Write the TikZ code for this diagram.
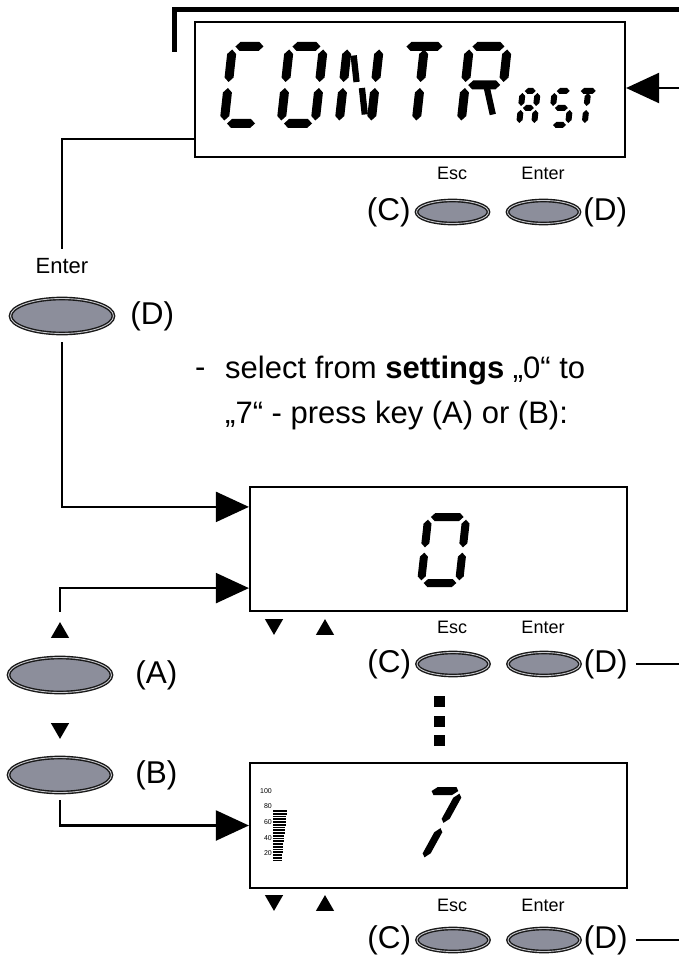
\documentclass[tikz,border=0pt]{standalone}
\usepackage{fontspec}
\setmainfont{Liberation Sans}
\usetikzlibrary{positioning,arrows.meta,calc,shapes.geometric}
\definecolor{btngray}{HTML}{8C8E9B}
\definecolor{btnring}{HTML}{C9CACF}

% segment helpers, origin at the bottom-left of a cell, y grows downward
\newcommand{\hseg}[3]{\fill (#1,#3) -- ({(#1)+\sgT/2},{(#3)-\sgT/2}) -- ({(#2)-\sgT/2},{(#3)-\sgT/2})
  -- (#2,#3) -- ({(#2)-\sgT/2},{(#3)+\sgT/2}) -- ({(#1)+\sgT/2},{(#3)+\sgT/2}) -- cycle;}
\newcommand{\vseg}[3]{\fill (#1,#2) -- ({(#1)+\sgT/2},{(#2)+\sgT/2}) -- ({(#1)+\sgT/2},{(#3)-\sgT/2})
  -- (#1,#3) -- ({(#1)-\sgT/2},{(#3)-\sgT/2}) -- ({(#1)-\sgT/2},{(#2)+\sgT/2}) -- cycle;}
\newcommand{\lcda}{\hseg{\sgG}{\sgW-\sgG}{-\sgH}}
\newcommand{\lcdb}{\vseg{\sgW}{-\sgH+\sgG}{-\sgH/2-\sgG}}
\newcommand{\lcdc}{\vseg{\sgW}{-\sgH/2+\sgG}{-\sgG}}
\newcommand{\lcdd}{\hseg{\sgG}{\sgW-\sgG}{0}}
\newcommand{\lcde}{\vseg{0}{-\sgH/2+\sgG}{-\sgG}}
\newcommand{\lcdf}{\vseg{0}{-\sgH+\sgG}{-\sgH/2-\sgG}}
\newcommand{\lcdg}{\hseg{\sgG}{\sgW-\sgG}{-\sgH/2}}
\newcommand{\lcdi}{\vseg{\sgW/2}{-\sgH+\sgG}{-\sgH/2-\sgG}}
\newcommand{\lcdj}{\vseg{\sgW/2}{-\sgH/2+\sgG}{-\sgG}}
\newcommand{\lcdp}{\draw[line width={0.7pt*\sgT}] ({\sgT*0.8},{-\sgH+\sgT}) -- ({\sgW/2-\sgG},{-\sgH/2-\sgG});}
\newcommand{\lcdq}{\draw[line width={0.7pt*\sgT}] ({\sgW/2+\sgG},{-\sgH/2+\sgG}) -- ({\sgW-\sgT*0.8},{-\sgT});}
% slant, x, y, width, height, thickness, segments
\newcommand{\lcdchar}[7]{%
  \begin{scope}[shift={(#2,#3)}, xslant=#1]
    \def\sgW{#4}\def\sgH{#5}\def\sgT{#6}\pgfmathsetmacro{\sgG}{#6/3}
    #7
  \end{scope}}

\begin{document}
\begin{tikzpicture}[x=1pt, y=-1pt,
  lcd/.style={rectangle, draw, line width=2.2pt, inner sep=0pt},
  btn/.style={ellipse, draw=black!90, double=btnring, double distance=0.9pt,
              line width=1.4pt, fill=btngray, inner sep=0pt},
  bigbtn/.style={btn, minimum width=103pt, minimum height=35pt},
  smallbtn/.style={btn, minimum width=72pt, minimum height=23pt},
  key/.style={inner sep=0pt, font=\fontsize{31.5}{31.5}\selectfont},
  keytxt/.style={inner sep=0pt, font=\fontsize{18}{18}\selectfont},
  uptri/.style={regular polygon, regular polygon sides=3, fill, inner sep=0pt, minimum size=21pt},
  downtri/.style={uptri, shape border rotate=180},
  ln/.style={line width=2.2pt},
  thinln/.style={line width=1.5pt},
  arr/.style={ln, -{Triangle[length=33pt, width=30pt]}}
]
\useasboundingbox (0,0) rectangle (679,955);

% --- CONTRAST display ---
\coordinate (topL) at (174,52);
\coordinate (topR) at (679,10);
\draw[line width=5pt] (topL) |- (topR);
\node[lcd, minimum width=430pt, minimum height=135pt] (cbox) at (410,89.5) {};
\lcdchar{0.11}{224}{123.5}{34}{77}{9}{\lcda\lcdf\lcde\lcdd}
\lcdchar{0.11}{281}{123.5}{34}{77}{9}{\lcda\lcdb\lcdc\lcdd\lcde\lcdf}
\lcdchar{0.11}{339}{123.5}{32}{77}{9}{\lcdf\lcde\lcdb\lcdc\lcdp\lcdq}
\lcdchar{0.11}{395}{123.5}{42}{77}{9}{\lcda\lcdi\lcdj}
\lcdchar{0.11}{461}{123.5}{38}{77}{9}{\lcda\lcdf\lcde\lcdb\lcdg\lcdq}
\lcdchar{0.11}{519}{125}{15}{34}{6}{\lcda\lcdb\lcdc\lcde\lcdf\lcdg}
\lcdchar{0.11}{551}{125}{17}{34}{6}{\lcda\lcdf\lcdg\lcdc\lcdd}
\lcdchar{0.11}{575}{125}{19}{34}{6}{\lcda\lcdi\lcdj}
\coordinate (rimT) at (679,88);
\draw[arr] (rimT) -- (rimT -| cbox.east);

\node[smallbtn] (escT) at (452.5,212) {};
\node[smallbtn] (entT) at (543.5,212) {};
\node[keytxt] (escTl) at (452,173) {Esc};
\node[keytxt] (entTl) at (543,173) {Enter};
\node[key, left=5pt of escT] (cT) {(C)};
\node[key, right=3pt of entT] (dT) {(D)};

% --- Enter key on the left ---
\coordinate (c1) at ($(cbox.south west)+(0,-19)$);
\node[inner sep=0pt, font=\fontsize{22}{22}\selectfont] (entL) at (62,266) {Enter};
\draw[ln, shorten >=9pt] (c1) -| (entL.north);
\node[bigbtn] (btnE) at (62,316) {};
\node[key, right=16pt of btnE] (dL) {(D)};

% --- instruction ---
\node[inner sep=0pt, anchor=base west, font=\fontsize{31}{45}\selectfont] (dash) at (195,377) {-};
\node[inner sep=0pt, anchor=north west, align=left, font=\fontsize{31}{45}\selectfont] (seltext) at (225,356)
  {select from \textbf{settings} „0“ to\\„7“ - press key (A) or (B):};

% --- setting 0 ---
\node[lcd, minimum width=377pt, minimum height=124pt] (box0) at (438.5,549) {};
\lcdchar{0.11}{421}{583}{38}{66}{8}{\lcda\lcdb\lcdc\lcdd\lcde\lcdf}
\draw[arr, shorten <=8pt] (btnE.south) |- ($(box0.north west)+(0,21)$);

\node[uptri] (upA) at (60,632.6) {};
\draw[arr, shorten <=10pt] (upA.north) |- ($(box0.south west)+(0,-24)$);
\node[bigbtn] (btnA) at (60,675) {};
\node[key, right=23pt of btnA] (aL) {(A)};
\node[downtri] (dnB) at (60,728.4) {};
\node[bigbtn] (btnB) at (60,775) {};
\node[key, right=23pt of btnB] (bL) {(B)};

\node[downtri] (dn0) at (274,624.4) {};
\node[uptri] (up0) at (325,629.6) {};
\node[keytxt] (esc0l) at (452,627) {Esc};
\node[keytxt] (ent0l) at (543,627) {Enter};
\node[smallbtn] (esc0) at (453,664) {};
\node[smallbtn] (ent0) at (544,664) {};
\node[key, left=5pt of esc0] (c0) {(C)};
\node[key, right=3pt of ent0] (d0) {(D)};
\coordinate (rimM) at (679,663);
\draw[thinln, shorten <=8pt] (d0.east) -- (d0.east -| rimM);

% --- dots ---
\foreach \y in {701.5,721.5,740.5}
  \fill (433.5,\y-5.5) rectangle ++(11,11);

% --- setting 7 ---
\node[lcd, minimum width=377pt, minimum height=125pt] (box7) at (438.5,825.5) {};
\lcdchar{0.55}{391}{860}{32}{69}{8}{\lcda\lcdb\lcdc}
\draw[arr, shorten <=7pt] (btnB.south) |- (box7.west);

\foreach \i in {0,...,18}
  \fill (273,{810+2.75*\i}) rectangle ++({14-0.3*\i},1.8);
\foreach \v/\y in {100/791,80/806,60/822,40/838,20/853}
  \node[inner sep=0pt, anchor=east, font=\fontsize{7}{7}\selectfont] at (272,\y) {\v};

\node[downtri] (dn7) at (274,900.4) {};
\node[uptri] (up7) at (325,905.6) {};
\node[keytxt] (esc7l) at (452,905) {Esc};
\node[keytxt] (ent7l) at (543,905) {Enter};
\node[smallbtn] (esc7) at (453,940) {};
\node[smallbtn] (ent7) at (544,940) {};
\node[key, left=5pt of esc7] (c7) {(C)};
\node[key, right=3pt of ent7] (d7) {(D)};
\coordinate (rimB) at (679,940);
\draw[thinln, shorten <=8pt] (d7.east) -- (d7.east -| rimB);

\end{tikzpicture}
\end{document}
